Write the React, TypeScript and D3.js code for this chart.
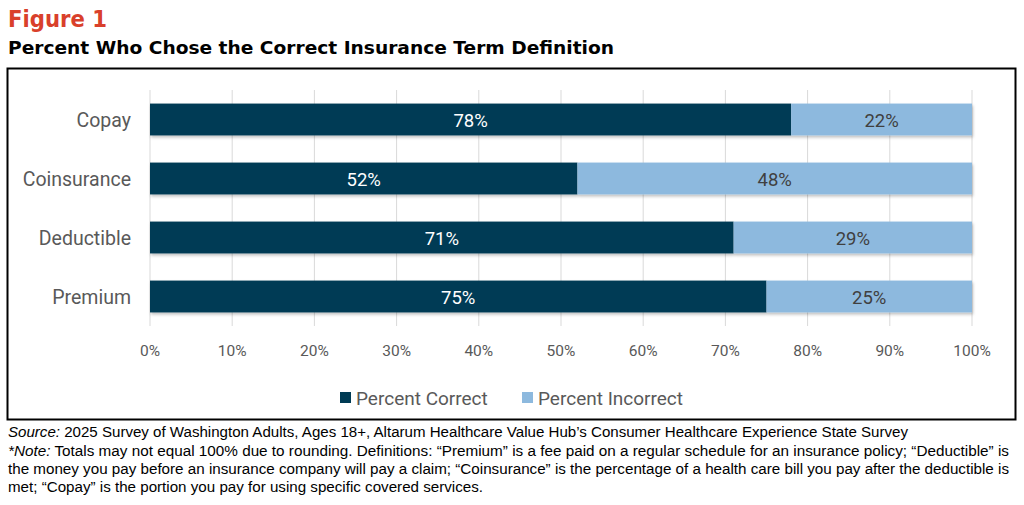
import * as d3 from "d3";

const categories = ["Copay", "Coinsurance", "Deductible", "Premium"];
const correct = [78, 52, 71, 75];
const incorrect = [22, 48, 29, 25];
const ticks = [0, 10, 20, 30, 40, 50, 60, 70, 80, 90, 100];
const notes = [
  "2025 Survey of Washington Adults, Ages 18+, Altarum Healthcare Value Hub’s Consumer Healthcare Experience State Survey",
  "Totals may not equal 100% due to rounding. Definitions: “Premium” is a fee paid on a regular schedule for an insurance policy; “Deductible” is",
  "the money you pay before an insurance company will pay a claim; “Coinsurance” is the percentage of a health care bill you pay after the deductible is",
  "met; “Copay” is the portion you pay for using specific covered services.",
];

const DARK = "#003b54";
const LIGHT = "#8db9de";
const FONT = "Roboto, 'Noto Sans', sans-serif";

export default function App() {
  const x = d3.scaleLinear().domain([0, 100]).range([150, 972]);
  const y = d3.scaleBand().domain(categories).range([90, 326]).paddingInner(0.46).paddingOuter(0.23);
  const bh = y.bandwidth();

  return (
    <svg width={1024} height={505} style={{ position: "absolute", left: 0, top: 0, background: "#fff" }} fontFamily={FONT}>
      <defs>
        <filter id="sh" x="-5%" y="-20%" width="110%" height="160%">
          <feDropShadow dx="1" dy="2" stdDeviation="1.5" floodColor="#000" floodOpacity="0.25" />
        </filter>
      </defs>
      <text x={8} y={27} fill="#d9402b" fontSize={23} fontWeight="bold" fontFamily="'DejaVu Sans', sans-serif" textLength={99} lengthAdjust="spacingAndGlyphs">Figure 1</text>
      <text x={8} y={54} fill="#000" fontSize={18.5} fontWeight="bold" fontFamily="'DejaVu Sans', sans-serif" textLength={606} lengthAdjust="spacingAndGlyphs">Percent Who Chose the Correct Insurance Term Definition</text>
      <rect x={7.5} y={68.5} width={1008} height={351} fill="none" stroke="#000" strokeWidth={2} />
      {ticks.map((t) => (
        <g key={t}>
          <line x1={x(t)} x2={x(t)} y1={90} y2={326} stroke="#d9d9d9" strokeWidth={1} />
          <text x={x(t)} y={356} textAnchor="middle" fontSize={15.5} fill="#595959">{t}%</text>
        </g>
      ))}
      {categories.map((c, i) => {
        const yy = y(c)!;
        return (
          <g key={c}>
            <text x={131} y={yy + bh / 2 + 7} textAnchor="end" fontSize={19.5} fill="#595959">{c}</text>
            <g filter="url(#sh)">
              <rect x={x(0)} y={yy} width={x(correct[i]) - x(0)} height={bh} fill={DARK} />
              <rect x={x(correct[i])} y={yy} width={x(correct[i] + incorrect[i]) - x(correct[i])} height={bh} fill={LIGHT} />
            </g>
            <text x={(x(0) + x(correct[i])) / 2} y={yy + bh / 2 + 7} textAnchor="middle" fontSize={18.5} fill="#fff">{correct[i]}%</text>
            <text x={(x(correct[i]) + x(correct[i] + incorrect[i])) / 2} y={yy + bh / 2 + 7} textAnchor="middle" fontSize={18.5} fill="#404040">{incorrect[i]}%</text>
          </g>
        );
      })}
      <rect x={340} y={392} width={11} height={11} fill={DARK} />
      <text x={356} y={405} fontSize={19} fill="#595959">Percent Correct</text>
      <rect x={522} y={392} width={11} height={11} fill={LIGHT} />
      <text x={538} y={405} fontSize={19} fill="#595959">Percent Incorrect</text>
      <g fontSize={14} fill="#000" fontFamily="'Liberation Sans', Arial, sans-serif" lengthAdjust="spacingAndGlyphs">
        <text x={8} y={437} textLength={900} lengthAdjust="spacingAndGlyphs"><tspan fontStyle="italic">Source:</tspan> {notes[0]}</text>
        <text x={8} y={456} textLength={1001} lengthAdjust="spacingAndGlyphs"><tspan fontStyle="italic">*Note:</tspan> {notes[1]}</text>
        <text x={8} y={474} textLength={1001} lengthAdjust="spacingAndGlyphs">{notes[2]}</text>
        <text x={8} y={492} textLength={475} lengthAdjust="spacingAndGlyphs">{notes[3]}</text>
      </g>
    </svg>
  );
}
